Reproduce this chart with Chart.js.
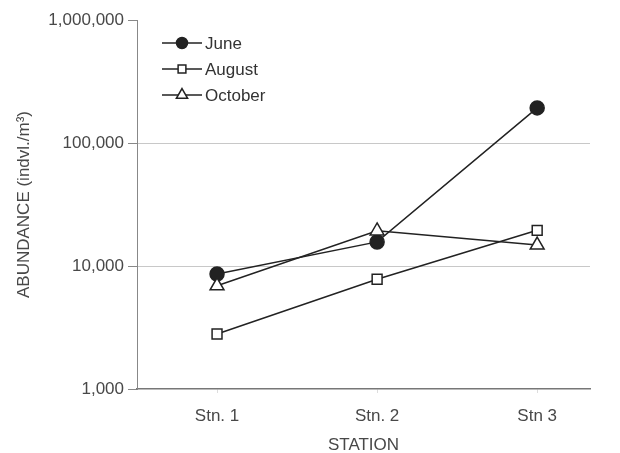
<!DOCTYPE html>
<html>
<head>
<meta charset="utf-8">
<script src="https://cdn.jsdelivr.net/npm/chart.js@4/dist/chart.umd.min.js"></script>
<style>
  html, body { margin: 0; padding: 0; background: #fff; }
  #wrap { width: 620px; height: 453px; }
</style>
</head>
<body>
<div id="wrap"><canvas id="c" width="620" height="453"></canvas></div>
<script>
// Dados
const stations = ['Stn. 1', 'Stn. 2', 'Stn 3'];
const june = [8600, 15700, 193000];
const august = [2800, 7800, 19500];
const october = [6900, 19300, 14800];
const yTicks = [1000, 10000, 100000, 1000000];

const FONT = 'Liberation Sans, Arial, sans-serif';
const FS = 17;
const ink = '#222';
const textColor = '#484848';

const toPoints = arr => arr.map((v, i) => ({ x: i + 1, y: v }));

const series = [
    { label: 'June', data: june, style: 'circle', fill: ink, r: 7 },
    { label: 'August', data: august, style: 'rect', fill: '#fff', r: 7 },
    { label: 'October', data: october, style: 'triangle', fill: '#fff', r: 8 }
];

// Legenda desenhada à mão (linha - marcador - linha)
const legendPlugin = {
    id: 'manualLegend',
    afterDraw(chart) {
        const c = chart.ctx;
        const x0 = chart.chartArea.left + 25;
        const y0 = chart.chartArea.top + 23;
        series.forEach((s, i) => {
            const y = y0 + i * 26;
            c.save();
            c.strokeStyle = ink;
            c.lineWidth = 1.5;
            c.beginPath();
            c.moveTo(x0, y);
            c.lineTo(x0 + 40, y);
            c.stroke();
            c.fillStyle = s.fill;
            Chart.helpers.drawPoint(c, {
                pointStyle: s.style,
                radius: s.r - 1.5,
                borderWidth: 1.5,
                rotation: 0
            }, x0 + 20, y);
            c.font = FS + 'px ' + FONT;
            c.fillStyle = '#333';
            c.textBaseline = 'middle';
            c.textAlign = 'left';
            c.fillText(s.label, x0 + 43, y + 1);
            c.restore();
        });
    }
};

new Chart(document.getElementById('c'), {
    type: 'line',
    data: {
        datasets: series.map(s => ({
            label: s.label,
            data: toPoints(s.data),
            borderColor: ink,
            borderWidth: 1.5,
            pointStyle: s.style,
            pointRadius: s.r,
            pointBackgroundColor: s.fill,
            pointBorderColor: ink,
            pointBorderWidth: 1.5,
            tension: 0
        })).reverse()
    },
    options: {
        responsive: false,
        animation: false,
        layout: { padding: { top: 20, right: 30, left: 14, bottom: 0 } },
        plugins: { legend: { display: false }, tooltip: { enabled: false } },
        scales: {
            x: {
                type: 'linear',
                min: 0.5,
                max: 3.33,
                afterBuildTicks: s => { s.ticks = [1, 2, 3].map(v => ({ value: v })); },
                afterFit: s => { s.height = 64; },
                ticks: {
                    callback: v => stations[v - 1],
                    font: { family: FONT, size: FS },
                    color: textColor,
                    padding: 13
                },
                grid: { drawOnChartArea: false, tickLength: 4, tickColor: '#ddd' },
                border: { color: '#777', width: 1.5 },
                title: {
                    display: true,
                    text: 'STATION',
                    font: { family: FONT, size: FS },
                    color: textColor,
                    padding: { top: 0, bottom: -3 }
                }
            },
            y: {
                type: 'logarithmic',
                min: 1000,
                max: 1000000,
                afterBuildTicks: s => { s.ticks = yTicks.map(v => ({ value: v })); },
                afterFit: s => { s.width = 123; },
                ticks: {
                    callback: v => v.toLocaleString('en-US'),
                    font: { family: FONT, size: FS },
                    color: textColor,
                    padding: 4
                },
                grid: {
                    color: c => (c.tick && (c.tick.value === 10000 || c.tick.value === 100000)) ? '#c8c8c8' : 'rgba(0,0,0,0)',
                    tickColor: '#888',
                    tickLength: 9,
                    lineWidth: 1
                },
                border: { color: '#888', width: 1 },
                title: {
                    display: true,
                    text: 'ABUNDANCE (indvl./m³)',
                    font: { family: FONT, size: FS },
                    color: textColor,
                    padding: { top: 0, bottom: 0 }
                }
            }
        }
    },
    plugins: [legendPlugin]
});
</script>
</body>
</html>
